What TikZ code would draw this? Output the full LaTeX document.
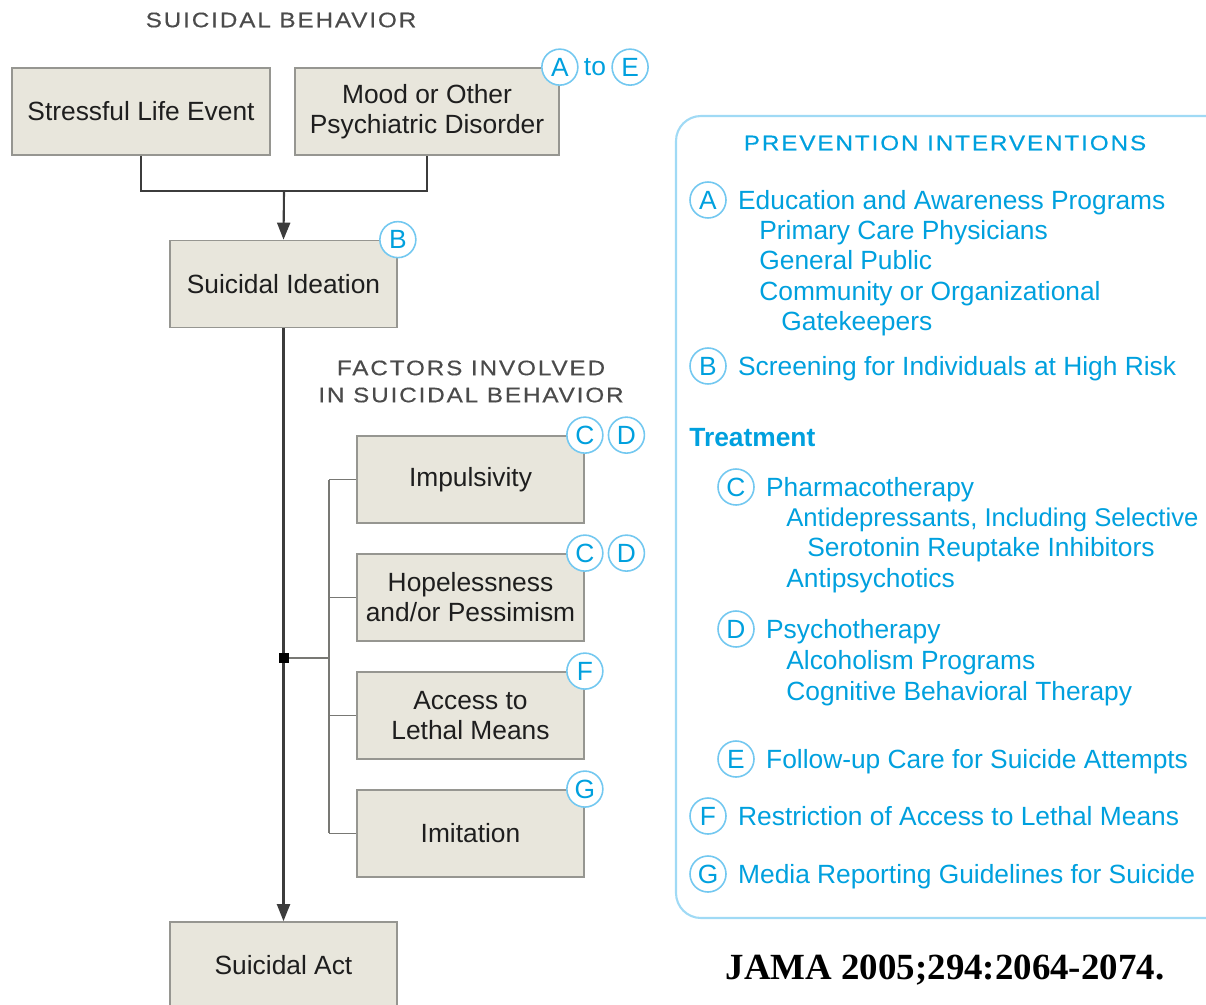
\documentclass[tikz,border=0pt]{standalone}
\usepackage{fontspec}
\setmainfont{Liberation Sans}
\newfontfamily\capsfont[LetterSpace=9,FakeStretch=1.15,FakeBold=0.4]{Liberation Sans}
\newfontfamily\refsfont{Liberation Serif}
\usetikzlibrary{arrows.meta}
\usetikzlibrary{positioning}

\definecolor{boxfill}{RGB}{232,230,220}
\definecolor{boxline}{RGB}{150,150,145}
\definecolor{boxtext}{RGB}{30,30,30}
\definecolor{linkline}{RGB}{60,60,60}
\definecolor{jamablue}{RGB}{0,160,222}
\definecolor{ringblue}{RGB}{115,200,240}
\definecolor{panelblue}{RGB}{160,218,245}

\tikzset{
  box/.style={draw=boxline, fill=boxfill, text=boxtext, line width=1pt,
    minimum width=4.54cm, minimum height=1.74cm, inner sep=0pt, align=center},
  badge/.style={circle, draw=ringblue, fill=white, text=jamablue, line width=0.9pt,
    minimum size=0.72cm, inner sep=0pt},
  item/.style={anchor=west, inner sep=0pt, text=jamablue, text height=10.7pt, text depth=0pt},
  head/.style={font=\capsfont\fontsize{12}{15.4}\selectfont, align=center},
  link/.style={draw=linkline, line width=1.2pt},
  branch/.style={draw=boxline!80!black, line width=0.8pt}
}

\begin{document}
\begin{tikzpicture}[x=0.02cm,y=-0.02cm,font=\fontsize{15}{17}\selectfont]

    % page frame
    \useasboundingbox (0,0) rectangle (1206,1004);
    \clip (0,0) rectangle (1206,1004);

    % headings
    \node[head, text=boxtext!80] (mainhead) at (281,20) {SUICIDAL BEHAVIOR};
    \node[head, text=boxtext!80] (factorhead) at (471,381.5) {FACTORS INVOLVED\\IN SUICIDAL BEHAVIOR};

    % main chain
    \node[box, minimum width=5.16cm] (stress) at (141,111.5) {Stressful Life Event};
    \node[box, minimum width=5.28cm] (mood) at (427,111.5) {Mood or Other\\Psychiatric Disorder};
    \node[box] (ideation) at (283.5,284) {Suicidal Ideation};
    \node[box, minimum height=1.72cm] (act) at (283.5,965) {Suicidal Act};

    % factors
    \node[box] (impuls) at (470.5,479.5) {Impulsivity};
    \node[box, below=0.585cm of impuls] (hope) {Hopelessness\\and/or Pessimism};
    \node[box, below=0.585cm of hope] (access) {Access to\\Lethal Means};
    \node[box, below=0.585cm of access] (imit) {Imitation};

    % connectors
    \coordinate (join) at (284,191);
    \draw[link] (stress.south) |- (join) -| (mood.south);
    \draw[link, -{Triangle[length=0.34cm,width=0.26cm]}] (join) -- (ideation.north);
    \draw[link, -{Triangle[length=0.34cm,width=0.26cm]}] (ideation.south) -- (act.north);

    \node[fill=black, minimum size=0.2cm, inner sep=0pt] (hub) at (284,658) {};
    \coordinate (bus) at (329,658);
    \draw[branch] (hub) -- (bus);
    \draw[branch] (bus |- impuls.west) -- (bus |- imit.west);
    \foreach \f in {impuls,hope,access,imit}
        \draw[branch] (bus |- \f.west) -- (\f.west);

    % intervention badges on the boxes
    \node[badge] (ba) at (mood.north east) {A};
    \node[right=0pt of ba, text=jamablue, inner xsep=0.1cm, inner ysep=0pt] (to) {to};
    \node[badge, right=0pt of to] (be) {E};
    \node[badge] (bb) at (ideation.north east) {B};
    \node[badge] (bc1) at (impuls.north east) {C};
    \node[badge, right=0.08cm of bc1] (bd1) {D};
    \node[badge] (bc2) at (hope.north east) {C};
    \node[badge, right=0.08cm of bc2] (bd2) {D};
    \node[badge] (bf) at (access.north east) {F};
    \node[badge] (bg) at (imit.north east) {G};

    % prevention panel
    \draw[draw=panelblue, line width=1.2pt, rounded corners=0.5cm] (676,116) rectangle (1240,918);
    \node[head, text=jamablue] (prevhead) at (945,143) {PREVENTION INTERVENTIONS};

    \node[badge] (pa) at (708,200) {A};
    \node[item, right=0.22cm of pa] (pa0) {Education and Awareness Programs};
    \node[item] (pa1) at (759,230) {Primary Care Physicians};
    \node[item] (pa2) at (759,260) {General Public};
    \node[item] (pa3) at (759,291) {Community or Organizational};
    \node[item] (pa4) at (781,321) {Gatekeepers};

    \node[badge] (pb) at (708,366) {B};
    \node[item, right=0.22cm of pb] (pb0) {Screening for Individuals at High Risk};

    \node[item, font=\fontsize{15}{17}\selectfont\bfseries] (treat) at (689,437) {Treatment};

    \node[badge] (pc) at (736,487) {C};
    \node[item, right=0.22cm of pc] (pc0) {Pharmacotherapy};
    \node[item, font=\fontsize{14.6}{17}\selectfont] (pc1) at (786,517) {Antidepressants, Including Selective};
    \node[item] (pc2) at (807,547) {Serotonin Reuptake Inhibitors};
    \node[item] (pc3) at (786,578) {Antipsychotics};

    \node[badge] (pd) at (736,629) {D};
    \node[item, right=0.22cm of pd] (pd0) {Psychotherapy};
    \node[item] (pd1) at (786,660) {Alcoholism Programs};
    \node[item] (pd2) at (786,691) {Cognitive Behavioral Therapy};

    \node[badge] (pe) at (736,759) {E};
    \node[item, right=0.22cm of pe] (pe0) {Follow-up Care for Suicide Attempts};

    \node[badge] (pf) at (708,816) {F};
    \node[item, right=0.22cm of pf] (pf0) {Restriction of Access to Lethal Means};

    \node[badge] (pg) at (708,874) {G};
    \node[item, right=0.22cm of pg] (pg0) {Media Reporting Guidelines for Suicide};

    % reference
    \node[font=\refsfont\bfseries\fontsize{21}{24}\selectfont] (cite) at (945,970) {JAMA 2005;294:2064-2074.};
\end{tikzpicture}
\end{document}
